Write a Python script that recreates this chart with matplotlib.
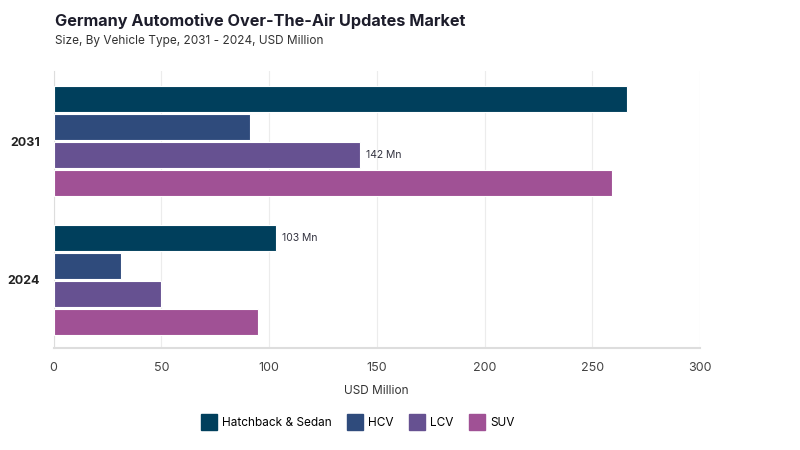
import matplotlib
matplotlib.use("Agg")
import matplotlib.pyplot as plt
from matplotlib.lines import Line2D
import numpy as np

plt.rcParams['font.family'] = ['Inter', 'DejaVu Sans']

years = ['2031', '2024']
segments = ['Hatchback & Sedan', 'HCV', 'LCV', 'SUV']
colors = ['#003f5c', '#2f4b7c', '#665191', '#a05195']
values = {
    'Hatchback & Sedan': [266, 103],
    'HCV': [91, 31.5],
    'LCV': [142, 50],
    'SUV': [259, 95],
}
labels = {('LCV', 0): '142 Mn', ('Hatchback & Sedan', 1): '103 Mn'}

fig = plt.figure(figsize=(8, 4.5), dpi=100)
ax = fig.add_axes([0.067, 0.227, 0.808, 0.615])

pitch = 0.2014
y = np.arange(len(years))
for i, seg in enumerate(segments):
    pos = y + (i - 1.5) * pitch
    ax.barh(pos, values[seg], height=0.185, color=colors[i],
            edgecolor='white', linewidth=0.8, zorder=3)
    for j in range(len(years)):
        if (seg, j) in labels:
            ax.text(values[seg][j] + 3, pos[j], labels[(seg, j)],
                    va='center', ha='left', fontsize=7.5, color='#333340')

ax.set_xlim(0, 300)
ax.set_ylim(1.489, -0.504)
ax.set_xticks(range(0, 301, 50))
ax.set_yticks(y)
ax.set_yticklabels(years, fontsize=9, fontweight='bold', color='#222222')
ax.tick_params(axis='x', length=0, labelsize=9, colors='#444444', pad=10)
ax.tick_params(axis='y', length=0, pad=10)
ax.grid(axis='x', color='#ececec', linewidth=0.8, zorder=0)
for s in ['top', 'right']:
    ax.spines[s].set_visible(False)
ax.spines['left'].set_color('#dddddd')
ax.spines['bottom'].set_color('#dddddd')
ax.spines['bottom'].set_linewidth(1.5)
ax.set_xlabel('USD Million', fontsize=8.5, color='#333333', labelpad=8)

fig.text(0.069, 0.953, 'Germany Automotive Over-The-Air Updates Market',
         fontsize=11.7, fontweight='bold', color='#1d1d2b', va='center')
fig.text(0.069, 0.908, 'Size, By Vehicle Type, 2031 - 2024, USD Million',
         fontsize=8.5, color='#333333', va='center')

handles = [Line2D([], [], marker='s', linestyle='', markersize=11,
                  markerfacecolor=c, markeredgecolor=c) for c in colors]
fig.legend(handles, segments, loc='center', bbox_to_anchor=(0.445, 0.06),
           ncol=4, frameon=False, fontsize=8.5, handletextpad=0.1,
           columnspacing=1.0)

fig.savefig('out.png', dpi=100)
